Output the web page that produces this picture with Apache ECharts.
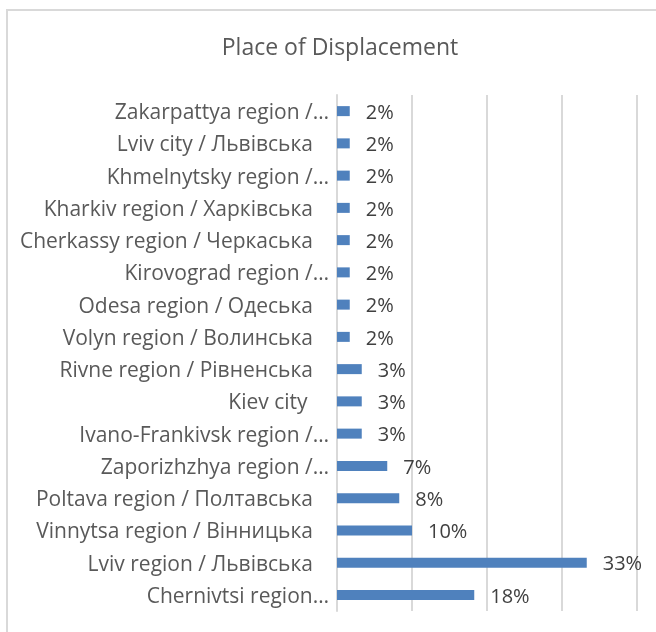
<!DOCTYPE html>
<html>
<head>
<meta charset="utf-8">
<script src="https://cdn.jsdelivr.net/npm/echarts@6/dist/echarts.min.js"></script>
<style>
html,body{margin:0;padding:0;background:#fff;}
#chart{width:656px;height:632px;}
</style>
</head>
<body>
<div id="chart"></div>
<script>
// Categories listed bottom-to-top (ECharts category axis starts at the bottom)
const categories = [
  "Chernivtsi region…",
  "Lviv region / Львівська",
  "Vinnytsa region / Вінницька",
  "Poltava region / Полтавська",
  "Zaporizhzhya region /…",
  "Ivano-Frankivsk region /…",
  "Kiev city ",
  "Rivne region / Рівненська",
  "Volyn region / Волинська",
  "Odesa region / Одеська",
  "Kirovograd region /…",
  "Cherkassy region / Черкаська",
  "Kharkiv region / Харківська",
  "Khmelnytsky region /…",
  "Lviv city / Львівська",
  "Zakarpattya region /…"
];
const values = [18.3, 33.3, 10.0, 8.3, 6.7, 3.3, 3.3, 3.3, 1.7, 1.7, 1.7, 1.7, 1.7, 1.7, 1.7, 1.7];
const xTicks = [0, 10, 20, 30, 40];
const title = "Place of Displacement";

const chart = echarts.init(document.getElementById('chart'));
chart.setOption({
  backgroundColor: '#ffffff',
  animation: false,
  title: {
    text: title,
    left: 335, top: 32, textAlign: 'center',
    textStyle: { fontFamily: 'Open Sans', fontSize: 23, fontWeight: 'normal', color: '#595959' }
  },
  graphic: [{
    type: 'rect',
    shape: { x: 7, y: 10, width: 800, height: 800 },
    style: { fill: 'none', stroke: '#d9d9d9', lineWidth: 2 },
    silent: true
  }],
  grid: { left: 337, top: 95, width: 300, height: 516, containLabel: false },
  xAxis: {
    type: 'value',
    min: xTicks[0], max: xTicks[xTicks.length - 1], interval: 10,
    axisLabel: { show: false },
    axisLine: { show: false },
    axisTick: { show: false },
    splitLine: { show: true, lineStyle: { color: '#d9d9d9', width: 2 } }
  },
  yAxis: {
    type: 'category',
    data: categories,
    axisLine: { show: true, lineStyle: { color: '#d9d9d9', width: 2 } },
    axisTick: { show: false },
    axisLabel: {
      margin: 8,
      padding: [4, 0, 0, 0],
      fontFamily: 'Open Sans', fontSize: 21, color: '#595959',
      formatter: v => v.endsWith('…') ? v : v + '{pad|}',
      rich: { pad: { width: 16 } }
    }
  },
  series: [{
    type: 'bar',
    data: values,
    barWidth: 10,
    itemStyle: { color: '#4F81BD' },
    label: {
      show: true, position: 'right', distance: 16, offset: [0, 2],
      fontFamily: 'Open Sans', fontSize: 20, color: '#404040',
      formatter: p => Math.round(p.value) + '%'
    }
  }]
});
</script>
</body>
</html>
